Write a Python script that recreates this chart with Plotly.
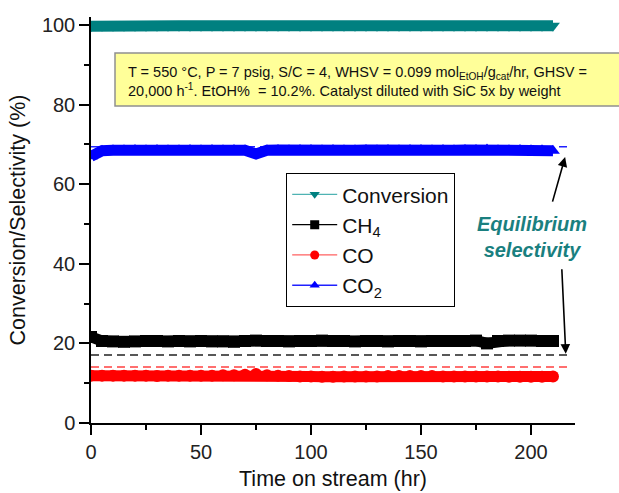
import plotly.graph_objects as go

# ---- data ----
time_hr = [0, 5, 10, 15, 20, 25, 30, 35, 40, 45, 50, 55, 60, 65, 70, 75, 80, 85, 90, 95, 100,
           105, 110, 115, 120, 125, 130, 135, 140, 145, 150, 155, 160, 165, 170, 175, 180,
           185, 190, 195, 200, 205, 210]
conversion = [99.7, 99.8, 99.8, 99.8, 99.8, 99.8, 99.8, 99.8, 99.8, 99.8, 99.8, 99.8, 99.8,
              99.8, 99.8, 99.8, 99.8, 99.8, 99.8, 99.8, 99.8, 99.8, 99.8, 99.8, 99.8, 99.8,
              99.8, 99.8, 99.8, 99.8, 99.8, 99.8, 99.8, 99.8, 99.8, 99.8, 99.8, 99.8, 99.8,
              99.8, 99.8, 99.8, 99.8]
ch4 = [21.6, 20.6, 20.5, 20.4, 20.5, 20.6, 20.6, 20.5, 20.6, 20.5, 20.6, 20.5, 20.5,
       20.4, 20.6, 20.7, 20.6, 20.6, 20.5, 20.6, 20.6, 20.7, 20.6, 20.6, 20.5, 20.6,
       20.6, 20.5, 20.6, 20.6, 20.5, 20.6, 20.6, 20.6, 20.6, 20.7, 20.0, 20.6, 20.7,
       20.7, 20.7, 20.6, 20.6]
co = [11.9, 11.9, 11.9, 11.9, 11.9, 11.9, 11.8, 11.9, 11.9, 11.9, 11.9, 11.9, 12.0,
      12.0, 12.1, 12.3, 12.0, 11.9, 11.8, 11.7, 11.7, 11.6, 11.6, 11.7, 11.7, 11.7,
      11.7, 11.8, 11.8, 11.8, 11.8, 11.8, 11.7, 11.7, 11.7, 11.7, 11.7, 11.7, 11.6,
      11.6, 11.6, 11.6, 11.7]
co2 = [67.0, 68.4, 68.5, 68.5, 68.6, 68.5, 68.6, 68.5, 68.5, 68.6, 68.5, 68.6, 68.5,
       68.6, 68.5, 67.6, 68.5, 68.6, 68.5, 68.6, 68.6, 68.5, 68.6, 68.5, 68.5, 68.6,
       68.5, 68.6, 68.5, 68.6, 68.6, 68.5, 68.6, 68.5, 68.6, 68.6, 68.7, 68.5, 68.5,
       68.6, 68.5, 68.5, 68.4]
eq_x = [0, 218]
eq_ch4 = 17.1
eq_co = 14.1
eq_co2 = 69.4

TEAL = "#008080"
FONT = "Liberation Sans, Arial, sans-serif"

fig = go.Figure()

# equilibrium dashed lines
for val, col in [(eq_co2, "#2020FF"), (eq_ch4, "#222222"), (eq_co, "#FF4040")]:
    fig.add_trace(go.Scatter(x=eq_x, y=[val, val], mode="lines", showlegend=False,
                             line=dict(color=col, width=1.5, dash="8px,5px"), hoverinfo="skip"))

series = [
    ("Conversion", conversion, TEAL, "triangle-down"),
    ("CH<sub>4</sub>", ch4, "#000000", "square"),
    ("CO", co, "#FF0000", "circle"),
    ("CO<sub>2</sub>", co2, "#0000FF", "triangle-up"),
]
for name, vals, col, sym in series:
    fig.add_trace(go.Scatter(x=time_hr, y=vals, mode="lines+markers", showlegend=False,
                             line=dict(color=col, width=11),
                             marker=dict(color=col, size=12, symbol=sym)))
lcols = {"Conversion": "#4FB3B3", "CH<sub>4</sub>": "#000000", "CO": "#FF6060", "CO<sub>2</sub>": "#2020FF"}
for name, vals, col, sym in series:
    fig.add_trace(go.Scatter(x=[None], y=[None], mode="lines+markers", name=name,
                             line=dict(color=lcols[name], width=1.3),
                             marker=dict(color=col, size=9, symbol=sym)))

# condition box
fig.add_shape(type="rect", xref="paper", yref="paper",
              x0=(115 - 91) / 484, x1=1.2, y0=1 - (106 - 17) / 406, y1=1 - (53 - 17) / 406,
              fillcolor="#FFFF99", line=dict(color="#909090", width=1.5), layer="above")
fig.add_annotation(xref="paper", yref="paper", x=(126 - 91) / 484, y=1 - (62 - 17) / 406,
                   xanchor="left", yanchor="top", align="left", showarrow=False,
                   font=dict(family=FONT, size=14.5, color="#111111"),
                   text="T = 550 °C, P = 7 psig, S/C = 4, WHSV = 0.099 mol<sub>EtOH</sub>/g<sub>cat</sub>/hr, GHSV =<br>"
                        "20,000 h<sup>-1</sup>. EtOH%  = 10.2%. Catalyst diluted with SiC 5x by weight")

# equilibrium label and arrows
fig.add_annotation(x=(532 - 91) / 2.2, y=(423 - 237) / 3.98, showarrow=False,
                   text="<b><i>Equilibrium<br>selectivity</i></b>",
                   font=dict(family=FONT, size=20, color="#1A7F7F"))
fig.add_annotation(x=215.5, y=66.8, ax=552 - 565, ay=203 - 157, axref="pixel", ayref="pixel",
                   showarrow=True, arrowhead=2, arrowsize=1.2, arrowwidth=1.6, arrowcolor="#000000", text="")
fig.add_annotation(x=215.8, y=17.4, ax=562 - 566, ay=268 - 354, axref="pixel", ayref="pixel",
                   showarrow=True, arrowhead=2, arrowsize=1.2, arrowwidth=1.6, arrowcolor="#000000", text="")

axis_common = dict(showline=True, linecolor="#000000", linewidth=1.5, showgrid=False, zeroline=False,
                   ticks="outside", ticklen=10, tickwidth=1.5, tickcolor="#000000", automargin=False,
                   tickfont=dict(family=FONT, size=20, color="#222222"))
fig.update_xaxes(range=[0, 220], dtick=50, tick0=0,
                 minor=dict(ticks="outside", ticklen=5, dtick=25, tickcolor="#000000", tickwidth=1.5),
                 title=dict(text="Time on stream (hr)", font=dict(family=FONT, size=21.5, color="#111111"), standoff=9),
                 **axis_common)
fig.update_yaxes(range=[0, 102], dtick=20, tick0=0,
                 minor=dict(ticks="outside", ticklen=5, dtick=10, tickcolor="#000000", tickwidth=1.5),
                 title=dict(text="Conversion/Selectivity (%)", font=dict(family=FONT, size=21.5, color="#111111"), standoff=10),
                 **axis_common)

fig.update_layout(
    width=619, height=493, margin=dict(l=91, r=44, t=17, b=70),
    plot_bgcolor="white", paper_bgcolor="white",
    legend=dict(x=(286 - 91) / 484, y=1 - (173 - 17) / 406, xanchor="left", yanchor="top",
                bgcolor="white", bordercolor="#000000", borderwidth=1.2,
                font=dict(family=FONT, size=21, color="#111111"), itemwidth=45),
)

fig.write_html("out.html")
